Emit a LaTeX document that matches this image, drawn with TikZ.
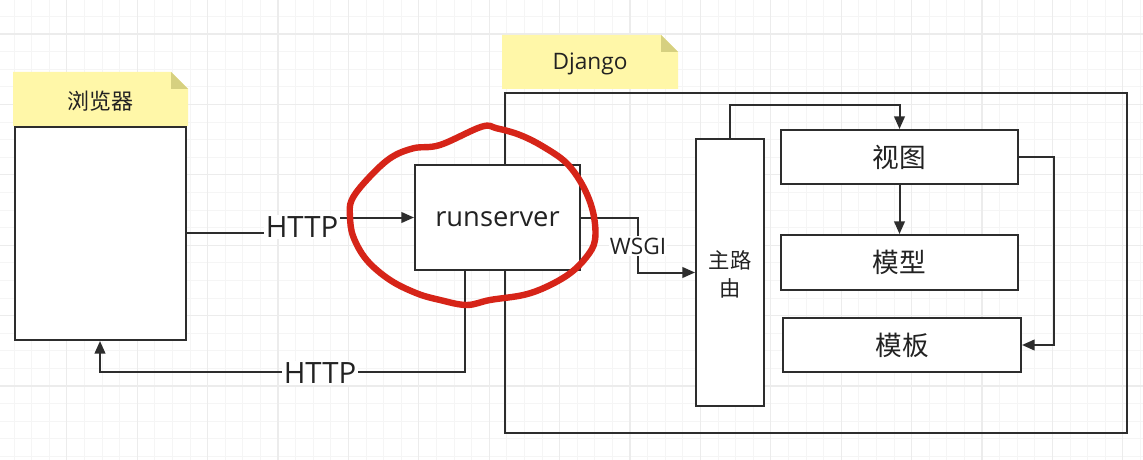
\documentclass[tikz,border=0pt]{standalone}
\usepackage{fontspec}
\setmainfont{Open Sans}
\newfontfamily\cjk{Noto Sans CJK SC}
\usetikzlibrary{arrows.meta,fit}
\definecolor{notey}{RGB}{255,247,168}
\definecolor{notefold}{RGB}{214,208,128}
\definecolor{ink}{RGB}{34,34,34}
\definecolor{linec}{RGB}{45,45,45}
\definecolor{redpen}{RGB}{214,36,24}
\definecolor{gminor}{RGB}{245,245,245}
\definecolor{gmajor}{RGB}{236,236,236}
\tikzset{
  box/.style={draw=linec, line width=1.5pt, fill=white, inner sep=0pt, text=ink},
  frame/.style={draw=linec, line width=1.5pt, inner sep=0pt},
  conn/.style={draw=linec, line width=1.5pt},
  arr/.style={conn, -{Triangle[length=9.5pt,width=8pt]}},
  lbl/.style={fill=white, inner sep=1pt, text=ink},
  notetext/.style={text=ink},
  gridminor/.style={draw=gminor, line width=0.6pt},
  gridmajor/.style={draw=gmajor, line width=0.9pt},
}
\begin{document}
\begin{tikzpicture}[x=0.75pt,y=-0.75pt]
\useasboundingbox (0,0) rectangle (1143,460);
\fill[white] (0,0) rectangle (1143,460);
% grid
\foreach \i in {0,...,65} {\pgfmathsetmacro\xx{-3.7+17.6*\i}\draw[gridminor] (\xx,0) -- (\xx,460);}
\foreach \j in {0,...,26} {\pgfmathsetmacro\yy{-1.2+17.6*\j}\draw[gridminor] (0,\yy) -- (1143,\yy);}
\foreach \i in {0,...,16} {\pgfmathsetmacro\xx{66.7+70.4*\i}\draw[gridmajor] (\xx,0) -- (\xx,460);}
\foreach \j in {0,...,6} {\pgfmathsetmacro\yy{34-70.4+70.4*\j}\draw[gridmajor] (0,\yy) -- (1143,\yy);}

% Django frame
\node[frame, fit={(505,93) (1127,433)}] (django) {};
% notes
\fill[notey] (13,72) -- (171,72) -- (188,89) -- (188,126) -- (13,126) -- cycle;
\fill[notefold] (171,72) -- (188,89) -- (171,89) -- cycle;
\node[notetext, font=\cjk\fontsize{16.5pt}{20pt}\selectfont] (browsernote) at (100,101) {浏览器};
\fill[notey] (502,35) -- (661,35) -- (678,52) -- (678,89) -- (502,89) -- cycle;
\fill[notefold] (661,35) -- (678,52) -- (661,52) -- cycle;
\node[notetext, font=\fontsize{17pt}{20pt}\selectfont] (djangonote) at (590,64) {Django};

% boxes
\node[box, fit={(15,127) (186,340)}] (browser) {};
\node[box, fit={(415,165) (580,270)}] (runserver) {};
\node[text=ink, font=\fontsize{20.5pt}{24pt}\selectfont] at (497.5,219) {runserver};
\node[box, fit={(696,139) (764,406)}] (router) {};
\node[text=ink, align=center, font=\cjk\fontsize{16pt}{21pt}\selectfont] at (730,274) {主路\\由};
\node[box, fit={(781,130) (1018,184)}] (view) {};
\node[text=ink, font=\cjk\fontsize{20pt}{24pt}\selectfont] at (view.center) {视图};
\node[box, fit={(781,235) (1018,290)}] (model) {};
\node[text=ink, font=\cjk\fontsize{20pt}{24pt}\selectfont] at (model.center) {模型};
\node[box, fit={(783,318) (1021,372)}] (template) {};
\node[text=ink, font=\cjk\fontsize{20pt}{24pt}\selectfont] at (template.center) {模板};

% connectors
\draw[arr] (browser.east |- 0,233) -- (302,233) |- (runserver.west);
\node[lbl, font=\fontsize{22pt}{26pt}\selectfont] (http1) at (302,227) {HTTP};
\draw[arr] (runserver.south -| 465,0) -- (465,372) -| (browser.south -| 100,0);
\node[lbl, font=\fontsize{22pt}{26pt}\selectfont] (http2) at (320,373) {HTTP};
\draw[arr] (runserver.east) -- (638,217.5) |- (router.west);
\node[lbl, font=\fontsize{17pt}{20pt}\selectfont] (wsgi) at (638,246) {WSGI};
\draw[arr] (router.north) -- (730,105) -| (view.north);
\draw[arr] (view.south) -- (model.north);
\draw[arr] (view.east) -- (1054,157) |- (template.east);

% red hand-drawn circle
\draw[redpen, line width=4.8pt, line join=round] plot[smooth cycle, tension=0.6] coordinates {
(481.7,126.7) (440,145) (413.3,148.3) (390,158.3) (366.7,180) (351.7,200)
(350,216.7) (353.3,236.7) (366.7,260) (390,280) (416.7,293.3) (440,300)
(466.7,305) (490,300) (523.3,295) (546.7,286.7) (570,273.3) (586.7,256.7)
(595,240) (593.3,213.3) (583.3,186.7) (566.7,163.3) (543.3,146.7) (520,135)
(496.7,128.3)};
\end{tikzpicture}
\end{document}
